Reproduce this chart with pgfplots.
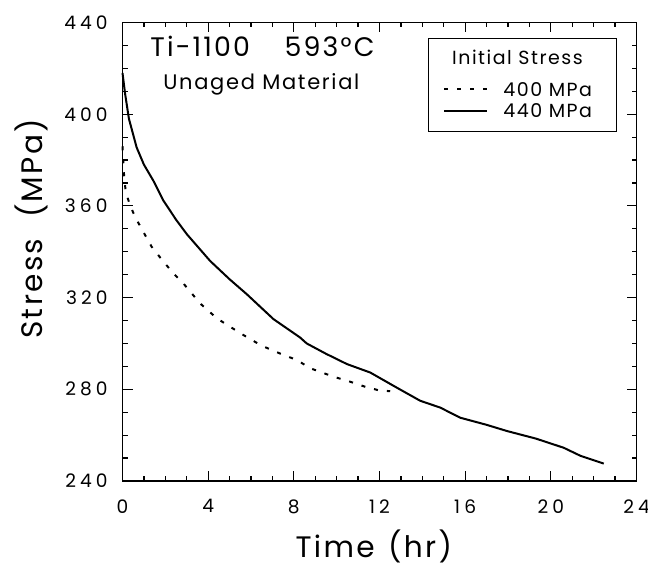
\documentclass[border=0pt]{standalone}
\usepackage{fontspec}
\setmainfont{Poppins}[LetterSpace=8]
\newfontfamily\tickfont{Poppins}[LetterSpace=22]
\usepackage{pgfplots}
\pgfplotsset{compat=1.18}
\pgfplotstableread{
t s
0 386
0.06 375
0.15 366
0.35 360.4
0.58 355.3
0.97 348.7
1.36 342.2
1.8 337
2.37 330.6
2.84 326.2
3.62 317.5
4.4 311
5.02 307.3
5.64 303.7
6.5 299
7.51 295
8.14 292.8
8.76 289.2
9.85 285.5
10.63 283.3
11.33 281.1
12.03 279.4
12.5 279.2
}\lowstress
\pgfplotstableread{
t s
0 418
0.12 409
0.3 398
0.66 385.5
1.0 378
1.44 371
1.91 362.3
2.5 354
3.0 347.7
4.09 336
5.0 328
5.8 321.5
7.05 310.6
8.29 302.6
8.6 300
9.5 295.5
10.48 291
11.57 287.3
12.81 280.7
13.9 275
14.84 272
15.77 267.6
17.0 264.5
17.95 261.8
19.3 258.5
20.6 254.5
21.38 251
22.47 247.6
}\highstress
\begin{document}
\begin{tikzpicture}
\begin{axis}[
  scale only axis, width=257pt, height=229.25pt,
  xmin=0, xmax=24, ymin=240, ymax=440,
  xtick={0,4,...,24}, ytick={240,280,...,440},
  minor x tick num=3, minor y tick num=3,
  tick pos=both, tick align=inside,
  major tick length=5pt, minor tick length=2.5pt,
  axis line style={line width=0.75pt},
  every tick/.style={line width=0.6pt, black},
  /pgf/number format/assume math mode=true,
  tick label style={font=\tickfont\fontsize{9.3}{10}\selectfont, inner sep=0pt},
  xticklabel style={anchor=north, yshift=-9pt},
  yticklabel style={anchor=east, xshift=-7.25pt},
  xlabel={Time\hspace{0.45em}(hr)}, ylabel={Stress\hspace{0.7em}(MPa)},
  label style={font=\fontsize{14.8}{16}\selectfont, inner sep=0pt},
  xlabel style={at={(axis description cs:0.489,-0.166)}, anchor=base},
  ylabel style={at={(axis description cs:-0.1566,0.55)}, anchor=base},
  legend cell align=left,
  legend style={at={(rel axis cs:0.6235,0.8709)}, anchor=north west,
    draw=none, fill=none, inner sep=0pt,
    font=\fontsize{9.5}{10}\selectfont,
    cells={anchor=base west},
    nodes={inner sep=0pt},
    /tikz/row sep=0pt, /tikz/column sep=7.5pt},
  legend image code/.code={\draw[#1] (0pt,3.3pt) -- (21.5pt,3.3pt);},
  clip=false,
]
\addplot[black, line width=1pt, dash pattern=on 2pt off 4.5pt] table[x=t,y=s] {\lowstress};
\addlegendentry{400 MPa}
\addplot[black, line width=1pt] table[x=t,y=s] {\highstress};
\addlegendentry{\rule{0pt}{9.15pt}440 MPa}
\draw[line width=0.6pt] (rel axis cs:0.596,0.9655) rectangle (rel axis cs:0.9615,0.7618);
\node[anchor=base west, font=\fontsize{9.5}{10}\selectfont, inner sep=0pt]
  at (rel axis cs:0.6406,0.9073) {Initial Stress};
\node[anchor=base west, font=\fontsize{13.4}{14}\selectfont, inner sep=0pt]
  at (rel axis cs:0.0535,0.925) {Ti-1100\hspace{1.3em}593°C};
\node[anchor=base west, font=\fontsize{10.5}{12}\selectfont, inner sep=0pt]
  at (rel axis cs:0.0788,0.853) {Unaged Material};
\end{axis}
\pgfresetboundingbox
\path[use as bounding box] (current axis.south west) ++(-61.25pt,-42pt) rectangle ++(324pt,282.5pt);
\end{tikzpicture}
\end{document}
